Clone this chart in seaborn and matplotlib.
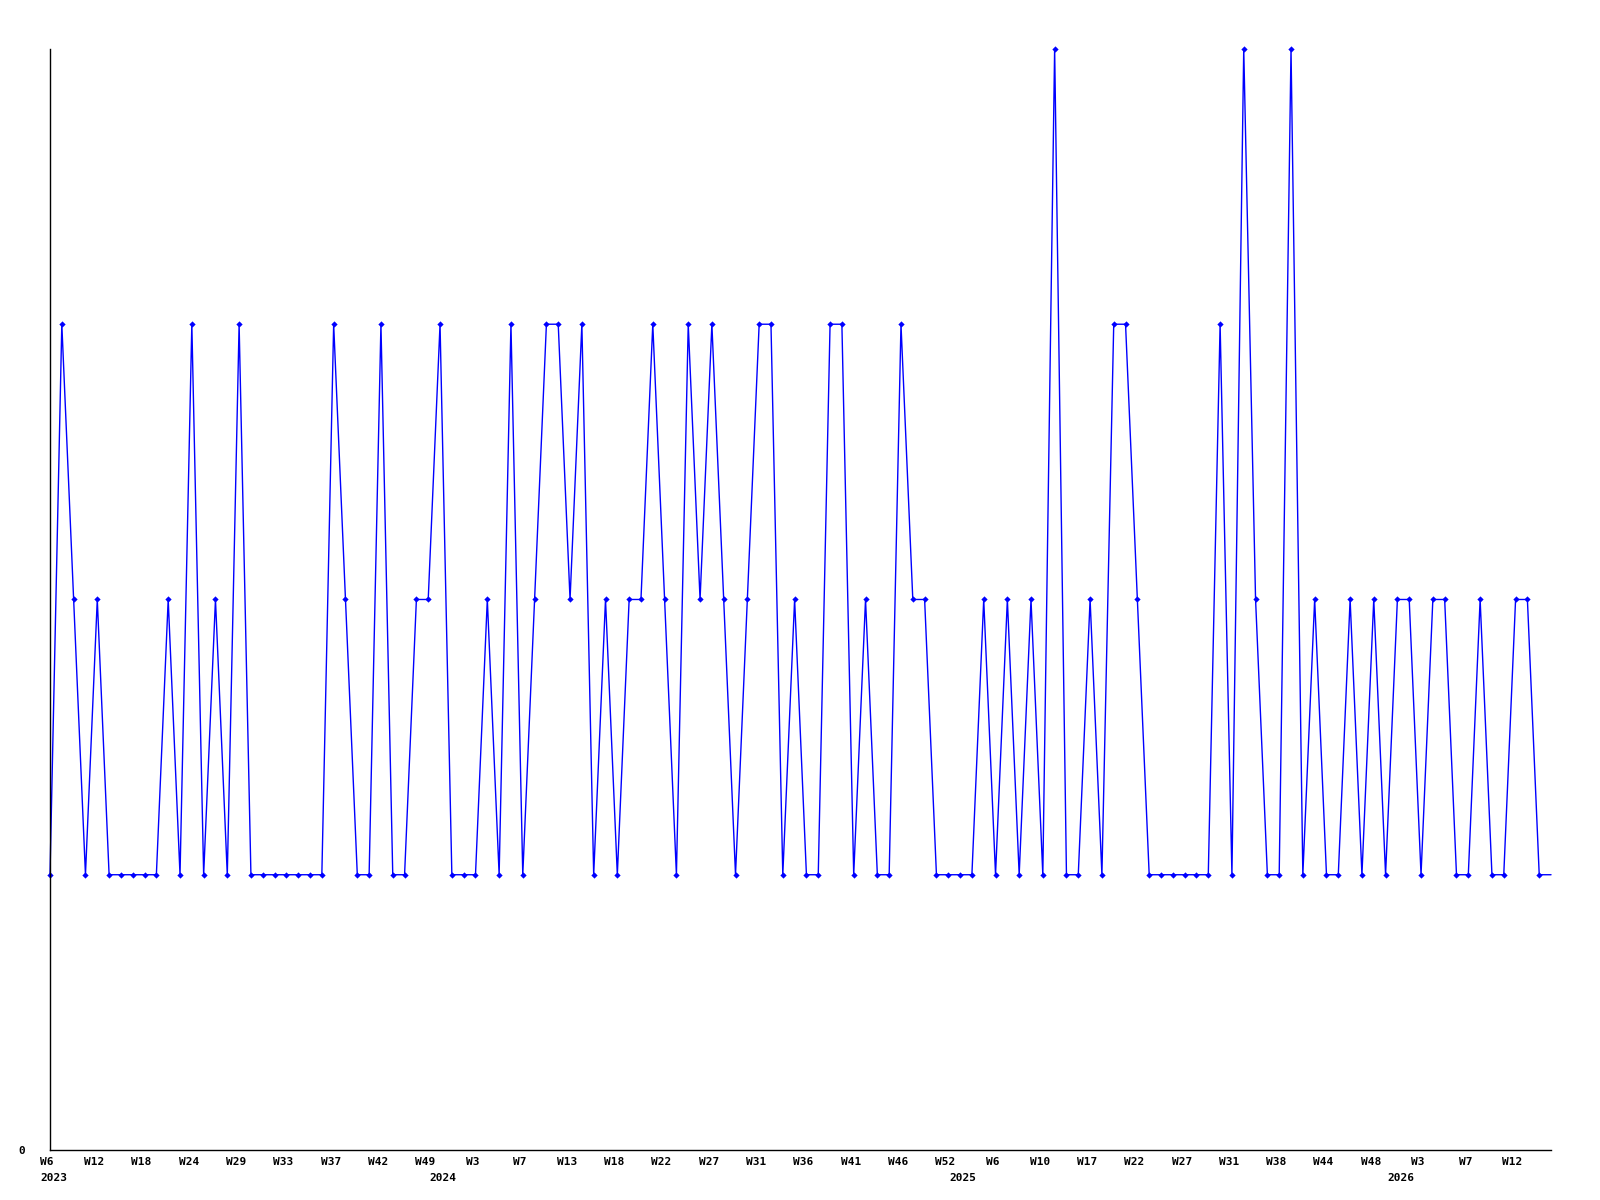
import matplotlib
matplotlib.use("Agg")
import numpy as np
import pandas as pd
import matplotlib.pyplot as plt
import matplotlib.transforms as mtransforms
import seaborn as sns

# values, one per sample (128 samples)
values = [1, 3, 2, 1, 2, 1, 1, 1, 1, 1, 2, 1, 3, 1, 2, 1, 3, 1, 1, 1,
          1, 1, 1, 1, 3, 2, 1, 1, 3, 1, 1, 2, 2, 3, 1, 1, 1, 2, 1, 3,
          1, 2, 3, 3, 2, 3, 1, 2, 1, 2, 2, 3, 2, 1, 3, 2, 3, 2, 1, 2,
          3, 3, 1, 2, 1, 1, 3, 3, 1, 2, 1, 1, 3, 2, 2, 1, 1, 1, 1, 2,
          1, 2, 1, 2, 1, 4, 1, 1, 2, 1, 3, 3, 2, 1, 1, 1, 1, 1, 1, 3,
          1, 4, 2, 1, 1, 4, 1, 2, 1, 1, 2, 1, 2, 1, 2, 2, 1, 2, 2, 1,
          1, 2, 1, 1, 2, 2, 1, 1]

# week labels, one every 4 samples
week_labels = ["W6", "W12", "W18", "W24", "W29", "W33", "W37", "W42", "W49",
               "W3", "W7", "W13", "W18", "W22", "W27", "W31", "W36", "W41",
               "W46", "W52", "W6", "W10", "W17", "W22", "W27", "W31", "W38",
               "W44", "W48", "W3", "W7", "W12"]

# year labels and the sample they sit under
years = ["2023", "2024", "2025", "2026"]
year_pos = [0.3, 33.2, 77.2, 114.3]

df = pd.DataFrame({"sample": np.arange(len(values)), "count": values})

sns.set_style("white")
plt.rcParams["font.family"] = ["DejaVu Sans Mono"]

fig = plt.figure(figsize=(16, 12), dpi=100)
ax = fig.add_axes([0.03125, 0.04167, 0.9694 - 0.03125, 0.9592 - 0.04167])

sns.lineplot(data=df, x="sample", y="count", ax=ax, color="#0000ff",
             linewidth=1, marker="D", markersize=3.2, markeredgewidth=0,
             markevery=list(range(len(values) - 1)), clip_on=False)

ax.set_xlim(0, len(values) - 1)
ax.set_ylim(0, 4)

ax.set_xticks(np.arange(0, len(values), 4))
ax.set_xticklabels(week_labels, fontsize=8, fontweight="bold", color="black")
ax.set_yticks([0])
ax.set_yticklabels(["0"], fontsize=8, fontweight="bold", color="black")
ax.tick_params(axis="x", length=0, pad=5)
ax.tick_params(axis="y", length=0, pad=18)

# labels sit a little left of their sample
shift = mtransforms.ScaledTranslation(-3 / 100, 0, fig.dpi_scale_trans)
for lbl in ax.get_xticklabels():
    lbl.set_transform(lbl.get_transform() + shift)

for yr, pos in zip(years, year_pos):
    ax.text(pos, -0.021, yr, transform=ax.get_xaxis_transform(),
            ha="center", va="top", fontsize=8, fontweight="bold", color="black")

ax.set_xlabel("")
ax.set_ylabel("")
for side in ["top", "right"]:
    ax.spines[side].set_visible(False)
for side in ["left", "bottom"]:
    ax.spines[side].set_color("black")
    ax.spines[side].set_linewidth(1)

fig.savefig("out.png", dpi=100, facecolor="white")
